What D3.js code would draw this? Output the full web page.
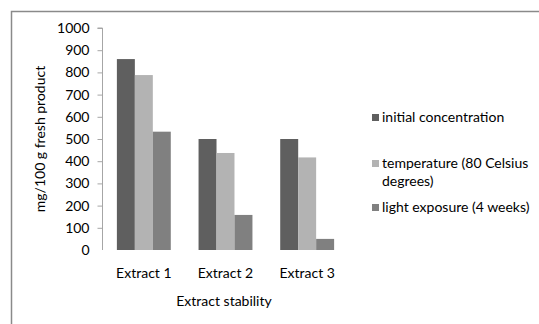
<!DOCTYPE html>
<html>
<head>
<meta charset="utf-8">
<script src="https://cdn.jsdelivr.net/npm/d3@7"></script>
<style>
  html, body { margin: 0; padding: 0; background: #fff; }
  svg { display: block; }
  text { font-family: Lato, "Open Sans", sans-serif; fill: #000; }
</style>
</head>
<body>
<svg id="chart" width="539" height="324"></svg>
<script>
// Extract stability: concentration (mg/100 g fresh product) per extract and treatment
const categories = ["Extract 1", "Extract 2", "Extract 3"];
const seriesNames = ["initial concentration", "temperature (80 Celsius degrees)", "light exposure (4 weeks)"];
const initialConcentration = [860, 500, 500];
const temperature80C = [788, 437, 417];
const lightExposure4w = [533, 158, 50];
const yTicks = [0, 100, 200, 300, 400, 500, 600, 700, 800, 900, 1000];
const legendLines = [["initial concentration"], ["temperature (80 Celsius", "degrees)"], ["light exposure (4 weeks)"]];
const seriesColors = ["#5f5f5f", "#b3b3b3", "#808080"];

const series = [initialConcentration, temperature80C, lightExposure4w];

const svg = d3.select("#chart");

// outer chart frame (top and left edges)
svg.append("path")
  .attr("d", "M11.5,324 L11.5,11.5 L539,11.5")
  .attr("fill", "none")
  .attr("stroke", "#8a8a8a")
  .attr("stroke-width", 1.5);

const plot = { left: 103, right: 348, top: 28, bottom: 250 };

const x0 = d3.scaleBand().domain(categories).range([plot.left, plot.right]).paddingInner(0.34).paddingOuter(0.17);
const x1 = d3.scaleBand().domain(d3.range(series.length)).range([0, x0.bandwidth()]);
const y = d3.scaleLinear().domain([0, 1000]).range([plot.bottom, plot.top]);

// bars
const groups = svg.append("g").selectAll("g")
  .data(categories)
  .join("g")
  .attr("transform", d => `translate(${x0(d)},0)`);

groups.selectAll("rect")
  .data((d, i) => series.map((s, k) => ({ k, v: s[i] })))
  .join("rect")
  .attr("x", d => x1(d.k))
  .attr("width", x1.bandwidth())
  .attr("y", d => y(d.v))
  .attr("height", d => y(0) - y(d.v))
  .attr("fill", d => seriesColors[d.k]);

// y axis
const yAxis = svg.append("g")
  .attr("transform", `translate(${plot.left - 0.5},0)`)
  .call(d3.axisLeft(y).tickValues(yTicks).tickSize(5).tickPadding(8).tickFormat(d3.format("d")));
yAxis.select(".domain").attr("stroke", "#a6a6a6").attr("d", `M-5,${y(1000)}H0V${y(0)}`);
yAxis.selectAll(".tick line").attr("stroke", "#a6a6a6");
yAxis.selectAll(".tick").filter(d => d === 0).select("line").remove();
yAxis.selectAll("text").attr("font-size", 14).style("font-family", "Lato, sans-serif");

// x category labels
svg.append("g").selectAll("text")
  .data(categories)
  .join("text")
  .attr("x", d => x0(d) + x0.bandwidth() / 2)
  .attr("y", 278)
  .attr("text-anchor", "middle")
  .attr("font-size", 14)
  .text(d => d);

// axis titles
svg.append("text")
  .attr("x", 224)
  .attr("y", 306)
  .attr("text-anchor", "middle")
  .attr("font-size", 14)
  .text("Extract stability");

svg.append("text")
  .attr("transform", `translate(45,${(plot.top + plot.bottom) / 2}) rotate(-90)`)
  .attr("text-anchor", "middle")
  .attr("font-size", 14)
  .text("mg/100 g fresh product");

// legend
const legendY = [122, 168, 212];
const legend = svg.append("g").selectAll("g")
  .data(seriesNames)
  .join("g")
  .attr("transform", (d, i) => `translate(372,${legendY[i]})`);

legend.append("rect")
  .attr("x", 0).attr("y", -8)
  .attr("width", 7).attr("height", 7)
  .attr("fill", (d, i) => seriesColors[i]);

legend.append("text")
  .attr("font-size", 14)
  .selectAll("tspan")
  .data((d, i) => legendLines[i])
  .join("tspan")
  .attr("x", 10)
  .attr("dy", (d, j) => j === 0 ? 0 : 18)
  .text(d => d);
</script>
</body>
</html>
